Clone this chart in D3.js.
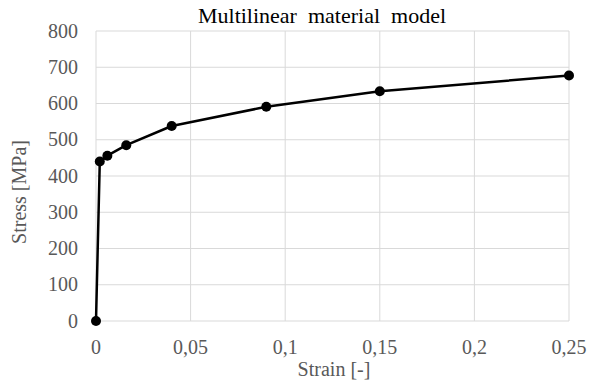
<!DOCTYPE html>
<html>
<head>
<meta charset="utf-8">
<script src="https://cdn.jsdelivr.net/npm/d3@7"></script>
<style>
  body { margin: 0; background: #fff; }
  text { font-family: "Liberation Serif", "Times New Roman", serif; }
</style>
</head>
<body>
<div id="chart"></div>
<script>
// data
const strain = [0, 0.002, 0.006, 0.016, 0.04, 0.09, 0.15, 0.25];
const stress = [0, 440, 456, 485, 538, 591, 634, 677];
const xTicks = [0, 0.05, 0.1, 0.15, 0.2, 0.25];
const yTicks = [0, 100, 200, 300, 400, 500, 600, 700, 800];

const width = 602, height = 383;
const plotLeft = 96, plotRight = 569, plotTop = 31, plotBottom = 321;

const svg = d3.select('#chart').append('svg')
    .attr('width', width)
    .attr('height', height);

const x = d3.scaleLinear().domain([0, 0.25]).range([plotLeft, plotRight]);
const y = d3.scaleLinear().domain([0, 800]).range([plotBottom, plotTop]);

const fmt = d => String(d).replace('.', ',');

// gridlines
svg.append('g')
    .selectAll('line')
    .data(yTicks)
    .enter().append('line')
    .attr('x1', plotLeft).attr('x2', plotRight)
    .attr('y1', d => y(d)).attr('y2', d => y(d))
    .attr('stroke', '#d9d9d9').attr('stroke-width', 1);

svg.append('g')
    .selectAll('line')
    .data(xTicks)
    .enter().append('line')
    .attr('x1', d => x(d)).attr('x2', d => x(d))
    .attr('y1', plotTop).attr('y2', plotBottom)
    .attr('stroke', '#d9d9d9').attr('stroke-width', 1);

// tick labels
svg.append('g')
    .selectAll('text')
    .data(yTicks)
    .enter().append('text')
    .attr('x', 78)
    .attr('y', d => y(d))
    .attr('dy', '0.33em')
    .attr('text-anchor', 'end')
    .attr('fill', '#595959')
    .style('font-size', '20px')
    .text(d => d);

svg.append('g')
    .selectAll('text')
    .data(xTicks)
    .enter().append('text')
    .attr('x', d => x(d))
    .attr('y', 354)
    .attr('text-anchor', 'middle')
    .attr('fill', '#595959')
    .style('font-size', '20px')
    .text(fmt);

// titles
svg.append('text')
    .attr('x', 322).attr('y', 23)
    .attr('text-anchor', 'middle')
    .attr('fill', '#000')
    .style('font-size', '22px')
    .style('white-space', 'pre')
    .text('Multilinear  material  model');

svg.append('text')
    .attr('x', 334).attr('y', 376)
    .attr('text-anchor', 'middle')
    .attr('fill', '#595959')
    .style('font-size', '20px')
    .text('Strain [-]');

svg.append('text')
    .attr('transform', 'translate(26,192) rotate(-90)')
    .attr('text-anchor', 'middle')
    .attr('fill', '#595959')
    .style('font-size', '20px')
    .text('Stress [MPa]');

// series
const pts = strain.map((s, i) => ({ s: s, v: stress[i] }));

svg.append('path')
    .datum(pts)
    .attr('fill', 'none')
    .attr('stroke', '#000')
    .attr('stroke-width', 2.5)
    .attr('stroke-linejoin', 'round')
    .attr('d', d3.line().x(d => x(d.s)).y(d => y(d.v)));

svg.append('g')
    .selectAll('circle')
    .data(pts)
    .enter().append('circle')
    .attr('cx', d => x(d.s))
    .attr('cy', d => y(d.v))
    .attr('r', 5)
    .attr('fill', '#000');
</script>
</body>
</html>
